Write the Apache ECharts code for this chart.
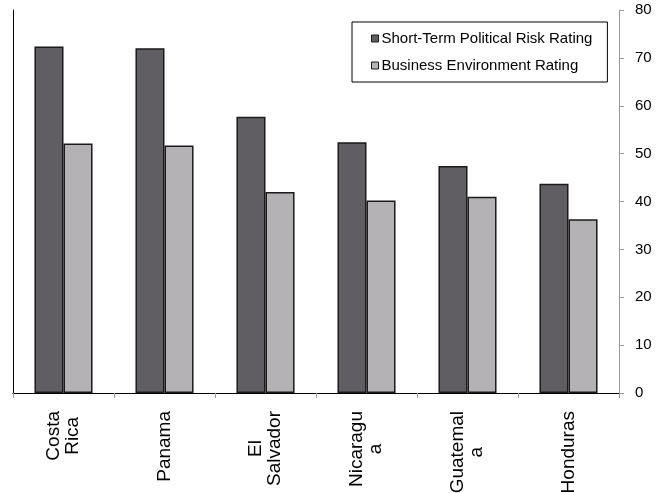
<!DOCTYPE html>
<html>
<head>
<meta charset="utf-8">
<script src="https://cdn.jsdelivr.net/npm/echarts@6/dist/echarts.min.js"></script>
<style>
  html, body { margin: 0; padding: 0; background: #fff; }
  #chart { width: 667px; height: 493px; }
</style>
</head>
<body>
<div id="chart"></div>
<script>
// Country ratings (0-100 scale)
const categories = ['Costa Rica', 'Panama', 'El Salvador', 'Nicaragua', 'Guatemala', 'Honduras'];
const tickLabels = ['Costa\nRica', 'Panama', 'El\nSalvador', 'Nicaragu\na', 'Guatemal\na', 'Honduras'];
const politicalRisk = [72.4, 72.0, 57.7, 52.4, 47.4, 43.7];
const businessEnv = [52.1, 51.7, 42.0, 40.2, 41.0, 36.3];
const seriesNames = ['Short-Term Political Risk Rating', 'Business Environment Rating'];
const yTicks = { min: 0, max: 80, interval: 10 };

const FONT = '"Liberation Sans", Arial, sans-serif';
const chart = echarts.init(document.getElementById('chart'), null, { renderer: 'canvas' });

chart.setOption({
  animation: false,
  backgroundColor: '#ffffff',
  textStyle: { fontFamily: FONT },
  grid: { left: 13, right: 48, top: 10, bottom: 100, containLabel: false, outerBoundsMode: 'none' },
  legend: {
    orient: 'vertical',
    left: 352,
    top: 22,
    padding: [9, 15, 9, 19],
    itemGap: 12,
    itemWidth: 7,
    itemHeight: 7,
    itemStyle: { borderColor: '#1a1a1a', borderWidth: 1 },
    icon: 'rect',
    borderColor: '#000',
    borderWidth: 1,
    textStyle: { fontFamily: FONT, fontSize: 15, color: '#000', padding: [0, 0, 0, -2] },
    data: seriesNames
  },
  xAxis: [
    {
      type: 'category',
      data: categories,
      position: 'bottom',
      axisLine: { lineStyle: { color: '#9a9a9a', width: 1 } },
      axisTick: { show: true, alignWithLabel: false, length: 5, lineStyle: { color: '#9a9a9a' } },
      axisLabel: {
        rotate: 90,
        margin: 18,
        interval: 0,
        fontFamily: FONT,
        fontSize: 19,
        color: '#000',
        lineHeight: 19,
        formatter: function (value, idx) {
          return tickLabels[idx].split('\n').map(l => '{c|' + l + '}').join('\n');
        },
        rich: { c: { align: 'center', fontFamily: FONT, fontSize: 19, color: '#000', lineHeight: 19 } }
      }
    },
    {
      // top border of the plot
      type: 'category',
      data: categories,
      position: 'top',
      axisLine: { lineStyle: { color: '#000', width: 1 } },
      axisTick: { show: false },
      axisLabel: { show: false }
    }
  ],
  yAxis: [
    {
      type: 'value',
      position: 'right',
      min: yTicks.min,
      max: yTicks.max,
      interval: yTicks.interval,
      axisLine: { show: true, lineStyle: { color: '#9a9a9a', width: 1 } },
      axisTick: { show: true, inside: false, length: 5, lineStyle: { color: '#9a9a9a' } },
      axisLabel: { margin: 16, fontFamily: FONT, fontSize: 15, color: '#000' },
      splitLine: { show: false }
    },
    {
      // left border of the plot
      type: 'value',
      position: 'left',
      min: yTicks.min,
      max: yTicks.max,
      interval: yTicks.interval,
      axisLine: { show: true, lineStyle: { color: '#000', width: 1 } },
      axisTick: { show: false },
      axisLabel: { show: false },
      splitLine: { show: false }
    }
  ],
  series: [
    {
      name: seriesNames[0],
      type: 'bar',
      data: politicalRisk,
      barGap: '0%',
      barCategoryGap: '42.5%',
      itemStyle: { color: '#605e62', borderColor: '#1a1a1a', borderWidth: 1.5 }
    },
    {
      name: seriesNames[1],
      type: 'bar',
      data: businessEnv,
      itemStyle: { color: '#b4b2b5', borderColor: '#1a1a1a', borderWidth: 1.5 }
    }
  ]
});
</script>
</body>
</html>
